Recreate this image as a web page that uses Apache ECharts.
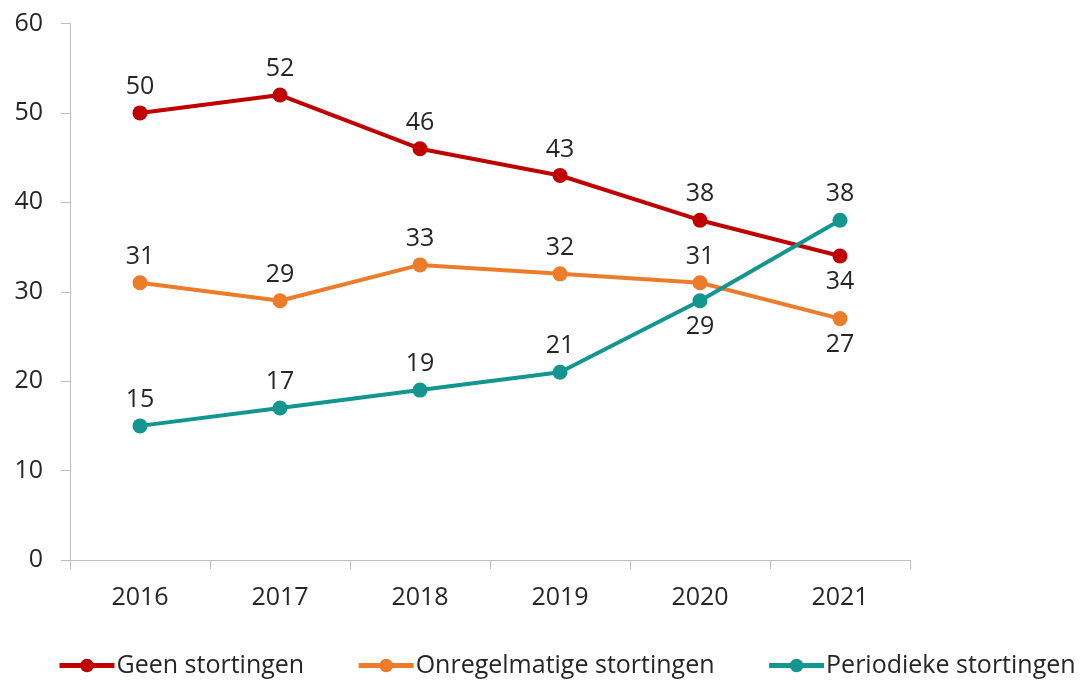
<!DOCTYPE html>
<html>
<head>
<meta charset="utf-8">
<script src="https://cdn.jsdelivr.net/npm/echarts@6/dist/echarts.min.js"></script>
<style>
  html, body { margin: 0; padding: 0; background: #fff; }
  #chart { width: 1081px; height: 683px; }
</style>
</head>
<body>
<div id="chart"></div>
<script>
// Years on the horizontal axis
const years = ['2016', '2017', '2018', '2019', '2020', '2021'];

// Share per deposit type (%)
const geenStortingen = [50, 52, 46, 43, 38, 34];
const onregelmatigeStortingen = [31, 29, 33, 32, 31, 27];
const periodiekeStortingen = [15, 17, 19, 21, 29, 38];

// Label side per point: 'top' or 'bottom'
const geenLabelPos = ['top', 'top', 'top', 'top', 'top', 'bottom'];
const onregelmatigeLabelPos = ['top', 'top', 'top', 'top', 'top', 'bottom'];
const periodiekeLabelPos = ['top', 'top', 'top', 'top', 'bottom', 'top'];

const FONT = 'Open Sans';
const TEXT = '#262626';
const SIZE = 25;

function points(values, positions) {
  return values.map((v, i) => ({
    value: v,
    label: { position: positions[i] }
  }));
}

function lineSeries(name, color, values, positions) {
  return {
    name: name,
    type: 'line',
    data: points(values, positions),
    symbol: 'circle',
    symbolSize: 15,
    lineStyle: { color: color, width: 4 },
    itemStyle: { color: color },
    label: {
      show: true,
      distance: 6,
      color: TEXT,
      fontFamily: FONT,
      fontSize: SIZE
    },
    emphasis: { disabled: true },
    animation: false
  };
}

const chart = echarts.init(document.getElementById('chart'));
chart.setOption({
  backgroundColor: '#fff',
  grid: { left: 70, right: 171, top: 23.5, bottom: 123, containLabel: false },
  xAxis: {
    type: 'category',
    data: years,
    boundaryGap: true,
    axisLine: { lineStyle: { color: '#BFBFBF', width: 1 } },
    axisTick: { show: true, length: 9, lineStyle: { color: '#BFBFBF' } },
    axisLabel: { color: TEXT, fontFamily: FONT, fontSize: SIZE, margin: 25 }
  },
  yAxis: {
    type: 'value',
    min: 0,
    max: 60,
    interval: 10,
    axisLine: { show: true, lineStyle: { color: '#BFBFBF', width: 1 } },
    axisTick: { show: true, length: 9, lineStyle: { color: '#BFBFBF' } },
    splitLine: { show: false },
    axisLabel: { color: TEXT, fontFamily: FONT, fontSize: SIZE, margin: 27 }
  },
  legend: {
    left: 52,
    bottom: 0,
    itemWidth: 55,
    itemHeight: 17,
    itemGap: 52,
    lineStyle: { width: 5 },
    textStyle: { color: TEXT, fontFamily: FONT, fontSize: SIZE, padding: [0, 0, 0, -3] },
    data: ['Geen stortingen', 'Onregelmatige stortingen', 'Periodieke stortingen']
  },
  series: [
    lineSeries('Geen stortingen', '#C00000', geenStortingen, geenLabelPos),
    lineSeries('Onregelmatige stortingen', '#EC7C2A', onregelmatigeStortingen, onregelmatigeLabelPos),
    lineSeries('Periodieke stortingen', '#139690', periodiekeStortingen, periodiekeLabelPos)
  ]
});
</script>
</body>
</html>
